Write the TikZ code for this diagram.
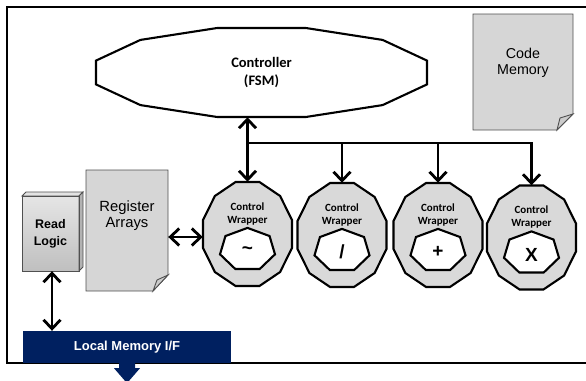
\documentclass[tikz,border=0pt]{standalone}
\usepackage{fontspec}
\newfontfamily\calibrifont{Carlito}
\newfontfamily\arialfont{Liberation Sans}
\usetikzlibrary{arrows.meta,calc}
\definecolor{navy}{RGB}{0,32,96}
\definecolor{lgray}{RGB}{217,217,217}
\definecolor{pagegray}{RGB}{214,214,214}
\definecolor{edgegray}{RGB}{80,80,80}

% 12-gon with flat top/bottom/sides; #1 centre, #2 x-radius, #3 y-radius, #4 style
\newcommand\dodecagon[4]{%
  \filldraw[#4,shift={(#1)}] (15:#2pt and #3pt)
    \foreach \k in {45,75,...,345}{ -- (\k:#2pt and #3pt)} -- cycle;}
% heptagon with a vertex at the top
\newcommand\heptagon[4]{%
  \filldraw[#4,shift={(#1)}] (90:#2pt and #3pt)
    \foreach \k in {141.43,192.86,244.29,295.71,347.14,398.57}{ -- (\k:#2pt and #3pt)} -- cycle;}

\begin{document}
\begin{tikzpicture}[x=1pt,y=-1pt,
  frameline/.style={line width=2.2pt, black},
  outline/.style={line width=2.1pt, black, line join=miter},
  conn/.style={line width=2.8pt, black, line join=miter},
  barb/.tip={Straight Barb[length=9pt,width=17pt,line width=2.8pt]},
  biarrow/.style={conn, barb-barb},
  downarrow/.style={conn, -barb},
  pageedge/.style={draw=edgegray, line width=0.9pt, line join=miter},
  wrapbox/.style={rectangle, draw=none, minimum width=89pt, minimum height=104pt, inner sep=0pt},
  wraptext/.style={align=center, inner sep=0pt, font=\calibrifont\bfseries\fontsize{11}{13}\selectfont},
  symfont/.style={inner sep=0pt, font=\arialfont\bfseries\fontsize{19}{20}\selectfont},
  ctrlfont/.style={align=center, inner sep=0pt, font=\calibrifont\bfseries\fontsize{14.5}{18}\selectfont},
  arialtext/.style={align=center, inner sep=0pt, font=\arialfont\fontsize{#1}{#1}\selectfont},
]
\useasboundingbox (0,0) rectangle (586,380);

% outer frame (open on the right, cut by the picture edge)
\draw[frameline] (600,7) -- (7,7) -- (7,363) -- (600,363);

% Controller
\dodecagon{261.5,72.5}{171.3}{46.07}{outline, fill=white}
\node[ctrlfont, minimum width=331pt, minimum height=89pt] (ctrl) at (261.5,72.5) {Controller\\(FSM)};

% Code memory page
\filldraw[pageedge, fill=pagegray] (473,14) -- (573,14) -- (573,114) -- (557,130) -- (473,130) -- cycle;
\filldraw[pageedge, fill=gray!40] (557,130) -- (560,118) -- (573,114) -- cycle;
\node[arialtext={14.3}, text height=10pt] (code) at (523,71) {Code\\[2pt]Memory};

% Control wrappers
\newcommand\wrapper[4]{%
  \dodecagon{#2,#3}{46.07}{53.83}{outline, fill=lgray}
  \node[wrapbox] (#1) at (#2,#3) {};
  \node[wraptext] (#1t) at ([yshift=20pt]#1.center) {Control\\Wrapper};
  \heptagon{#2,#3+15.5}{28.2}{21.6}{outline, fill=white}
  \node[symfont] (#1op) at ([yshift=-17pt]#1.center) {#4};}
\wrapper{w1}{247.5}{234}{\textasciitilde}
\wrapper{w2}{342}{235}{/}
\wrapper{w3}{438}{235}{+}
\wrapper{w4}{531.5}{237.5}{X}

% Register arrays page
\filldraw[pageedge, fill=pagegray] (86,170) -- (168,170) -- (168,275) -- (153,291) -- (86,291) -- cycle;
\filldraw[pageedge, fill=gray!40] (153,291) -- (157,280) -- (168,275) -- cycle;
\node[rectangle, minimum width=82pt, minimum height=121pt, inner sep=0pt] (regs) at (127,230.5) {};
\node[arialtext={14.8}, text height=11pt] (regst) at (127,224) {Register\\[2pt]Arrays};

% Read logic block (bevelled box)
\fill[top color=gray!20, bottom color=gray!50] (22,196) rectangle (79,271);
\filldraw[pageedge, fill=gray!22] (22,196) -- (26,192) -- (83,192) -- (79,196) -- cycle;
\filldraw[pageedge, fill=gray!60] (79,196) -- (83,192) -- (83,267) -- (79,271) -- cycle;
\draw[pageedge] (22,196) rectangle (79,271);
\node[align=center, inner sep=0pt, minimum width=57pt, minimum height=75pt,
      font=\arialfont\bfseries\fontsize{12.5}{17}\selectfont] (rl) at (50.5,233.5) {Read\\Logic};

% Local memory interface
\node[fill=navy, text=white, minimum width=208pt, minimum height=32pt, inner sep=0pt,
      font=\arialfont\bfseries\fontsize{13}{13}\selectfont] (lmi) at (127,347) {Local Memory I/F};
\fill[navy, shift={(lmi.south)}] (-8,-1) -- (8,-1) -- (8,5) -- (13,5) -- (0,20) -- (-13,5) -- (-8,5) -- cycle;

% connectors
\draw[biarrow] (ctrl.south -| w1.north) -- (w1.north);
\coordinate (bus) at (0,143);
\draw[downarrow] (w1.north |- bus) -- (w4.north |- bus) -- (w4.north);
\draw[downarrow] (w2.north |- bus) -- (w2.north);
\draw[downarrow] (w3.north |- bus) -- (w3.north);
\coordinate (rw) at ([yshift=-3pt]w1.west);
\draw[biarrow] (rw -| regs.east) -- (rw);
\coordinate (rls) at ([xshift=1.5pt]rl.south);
\draw[biarrow] (rls) -- (rls |- lmi.north);
\end{tikzpicture}
\end{document}
